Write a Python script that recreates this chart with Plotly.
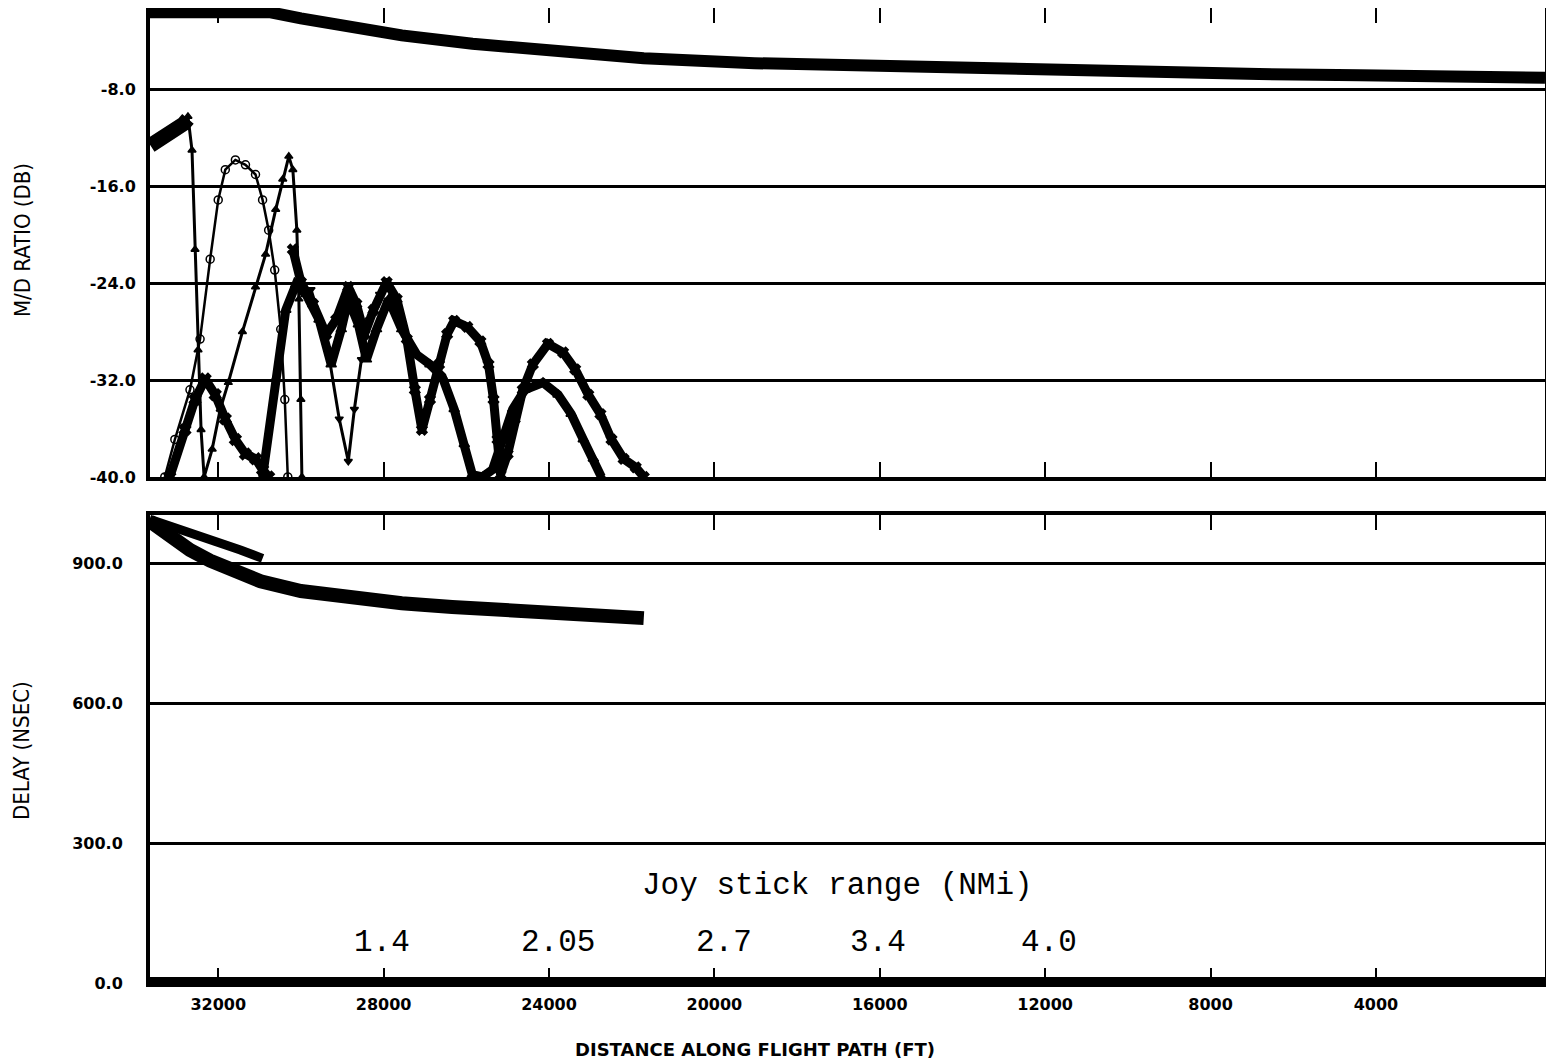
import plotly.graph_objects as go

# ---------------- data ----------------
x_ticks = [32000, 28000, 24000, 20000, 16000, 12000, 8000, 4000]
x_tick_text = ["32000", "28000", "24000", "20000", "16000", "12000", "8000", "4000"]
md_ticks = [-40, -32, -24, -16, -8]
md_tick_text = ["-40.0", "-32.0", "-24.0", "-16.0", "-8.0"]
delay_ticks = [0, 300, 600, 900]
delay_tick_text = ["0.0", "300.0", "600.0", "900.0"]

# top reference curve (M/D ratio, dB)
ref_x = [33660, 30730, 30000, 29025, 27560, 25850, 23900, 21710, 19030, 16590, 14150, 11710, 9270, 6830, 4390, 1950, -90]
ref_y = [-1.6, -1.6, -2.1, -2.7, -3.5, -4.2, -4.8, -5.4, -5.8, -6.0, -6.3, -6.4, -6.6, -6.7, -6.8, -6.9, -7.0]

# thick start blob
start_x = [33640, 33537, 33290, 33049, 32830, 32732]
start_y = [-12.6, -12.4, -12.0, -11.5, -10.8, -10.4]

# run A (triangles)
runA_x = [33537, 33171, 32878, 32732, 32634, 32561, 32488, 32415, 32341, 32146, 31951, 31756, 31415, 31098,
          30854, 30610, 30439, 30293, 30195, 30098, 30049, 30000, 29976]
runA_y = [-12.3, -11.7, -10.9, -10.2, -13.0, -21.2, -29.5, -36.1, -40.0, -37.7, -34.4, -32.2, -28.0, -24.3,
          -21.6, -17.9, -15.4, -13.5, -14.6, -19.6, -25.3, -33.6, -40.0]

# run B (circles)
runB_x = [33293, 33049, 32683, 32439, 32195, 32000, 31829, 31585, 31341, 31098, 30927, 30780, 30634, 30488, 30390, 30317]
runB_y = [-40.0, -36.9, -32.8, -28.6, -22.0, -17.1, -14.6, -13.8, -14.2, -15.0, -17.1, -19.6, -22.9, -27.8, -33.6, -40.0]

# run C (crosses, low blob)
runC_x = [33171, 32805, 32561, 32317, 32073, 31829, 31585, 31341, 31098, 30927, 30780]
runC_y = [-40.0, -36.1, -33.6, -31.9, -33.2, -35.2, -36.9, -38.1, -38.5, -39.4, -40.0]

# run D (lower long band)
runD_x = [30927, 30610, 30366, 30122, 29878, 29561, 29268, 29024, 28854, 28610, 28415, 28171, 27878, 27561, 27195,
          26878, 26585, 26293, 26049, 25854, 25610, 25366, 25122, 24878, 24585, 24146, 23780, 23463, 23171, 22927, 22732]
runD_y = [-40.0, -31.9, -26.2, -24.1, -24.9, -27.0, -30.7, -27.8, -25.3, -27.4, -30.3, -27.8, -25.3, -27.8, -29.9,
          -30.7, -31.7, -34.4, -37.3, -39.8, -40.0, -39.4, -36.9, -34.4, -32.8, -32.2, -33.2, -34.8, -36.9, -38.5, -40.0]

# run E (upper long band)
runE_x = [30195, 30000, 29707, 29390, 29146, 28854, 28659, 28463, 28244, 27927, 27683, 27439, 27244, 27073, 26878,
          26659, 26463, 26293, 25976, 25659, 25463, 25341, 25244, 25171, 25000, 24829, 24634, 24390, 24024, 23659,
          23366, 23049, 22756, 22488, 22195, 21902, 21707]
runE_y = [-21.2, -23.9, -25.7, -28.2, -27.0, -24.3, -25.7, -28.2, -26.2, -23.9, -25.3, -28.6, -32.8, -36.1, -33.6,
          -30.7, -28.2, -27.1, -27.6, -28.8, -30.7, -33.6, -36.9, -39.8, -38.1, -35.2, -32.8, -30.7, -29.0, -29.7,
          -31.1, -33.2, -34.8, -36.9, -38.5, -39.2, -40.0]

# run F (thin V)
runF_x = [29756, 29390, 29073, 28854, 28707, 28537, 28341, 28098, 27927]
runF_y = [-24.5, -28.6, -35.2, -38.7, -34.4, -30.3, -27.0, -24.9, -23.9]

# delay (nsec)
delay_main_x = [33659, 33171, 32683, 32195, 31463, 30976, 30000, 28780, 27561, 26341, 25122, 23902, 22683, 21707]
delay_main_y = [990, 958, 928, 905, 878, 861, 840, 824, 814, 806, 799, 793, 786, 782]
delay_upper_x = [33659, 32927, 32195, 31463, 30927]
delay_upper_y = [994, 973, 950, 928, 910]

# joystick range labels
nmi_labels = ["1.4", "2.05", "2.7", "3.4", "4.0"]
nmi_x = [28049, 23780, 19756, 16049, 11902]
nmi_label_y = 86
nmi_title = "Joy stick range (NMi)"
nmi_title_x = 17024
nmi_title_y = 210

# ---------------- figure ----------------
fig = go.Figure()
K = "black"

def add(x, y, width, symbol=None, size=6, xa="x", ya="y"):
    mode = "lines+markers" if symbol else "lines"
    fig.add_trace(go.Scatter(
        x=x, y=y, mode=mode, xaxis=xa, yaxis=ya, showlegend=False,
        line=dict(color=K, width=width),
        marker=dict(symbol=symbol or "circle", size=size, color=K, line=dict(color=K, width=1.5)),
    ))

add(ref_x, ref_y, 12)
add(start_x, start_y, 15)
add(runA_x, runA_y, 3, "triangle-up", 7)
add(runB_x, runB_y, 2.5, "circle-open", 8)
add(runC_x, runC_y, 9, "x", 10)
add(runD_x, runD_y, 9, "triangle-up", 9)
add(runE_x, runE_y, 9, "x", 9)
add(runF_x, runF_y, 3, "triangle-down", 7)

add(delay_upper_x, delay_upper_y, 9, xa="x2", ya="y2")
add(delay_main_x, delay_main_y, 14, xa="x2", ya="y2")

ytickfont = dict(family="DejaVu Sans", size=16, color=K, weight="bold")
xtickfont = dict(family="DejaVu Sans", size=16, color=K, weight="bold")
xrange = [33650, -90]

common_x = dict(range=xrange, tickvals=x_ticks, ticktext=x_tick_text, ticks="inside", ticklen=15,
                tickwidth=1.5, tickcolor=K, showline=True, linewidth=4, linecolor=K, mirror="ticks",
                showgrid=False, zeroline=False, automargin=False)

fig.update_layout(
    width=1546, height=1053,
    margin=dict(l=142, r=9, t=0, b=78, autoexpand=False),
    paper_bgcolor="white", plot_bgcolor="white",
    xaxis=dict(domain=[0, 1], anchor="y", showticklabels=False, **common_x),
    yaxis=dict(domain=[0.519, 1], anchor="x", range=[-40, -1.24], tickvals=md_ticks, ticktext=md_tick_text,
               ticks="", showline=True, linewidth=4, linecolor=K, mirror=True, showgrid=True,
               gridcolor=K, gridwidth=3, zeroline=False, tickfont=ytickfont, ticklabelstandoff=7,
               automargin=False),
    xaxis2=dict(domain=[0, 1], anchor="y2", showticklabels=True, tickfont=xtickfont, ticklabelstandoff=4,
                **common_x),
    yaxis2=dict(domain=[0, 0.48], anchor="x2", range=[0, 1003], tickvals=delay_ticks, ticktext=delay_tick_text,
                ticks="", showline=True, linewidth=4, linecolor=K, mirror=True, showgrid=True,
                gridcolor=K, gridwidth=3, zeroline=False, tickfont=ytickfont, ticklabelstandoff=20,
                automargin=False),
)

# very thick bottom axis
fig.add_shape(type="line", xref="x2 domain", yref="y2", x0=0, x1=1, y0=0, y1=0,
              line=dict(color=K, width=12))

title_font = dict(family="DejaVu Sans Condensed, DejaVu Sans", size=22, color=K)
fig.add_annotation(text="M/D RATIO (DB)", xref="paper", yref="paper", x=-0.0918, y=0.762,
                   xanchor="center", yanchor="middle", textangle=-90, showarrow=False, font=title_font)
fig.add_annotation(text="DELAY (NSEC)", xref="paper", yref="paper", x=-0.0918, y=0.239,
                   xanchor="center", yanchor="middle", textangle=-90, showarrow=False, font=title_font)
fig.add_annotation(text="DISTANCE ALONG FLIGHT PATH (FT)", xref="paper", yref="paper", x=0.434, y=-0.0687,
                   xanchor="center", yanchor="middle", showarrow=False,
                   font=dict(family="DejaVu Sans", size=18, color=K, weight="bold"))

mono = dict(family="Liberation Mono", size=31, color=K)
fig.add_annotation(text=nmi_title, xref="x2", yref="y2", x=nmi_title_x, y=nmi_title_y,
                   xanchor="center", yanchor="middle", showarrow=False, font=mono)
for lab, xv in zip(nmi_labels, nmi_x):
    fig.add_annotation(text=lab, xref="x2", yref="y2", x=xv, y=nmi_label_y,
                       xanchor="center", yanchor="middle", showarrow=False, font=mono)

fig.write_html("out.html")
